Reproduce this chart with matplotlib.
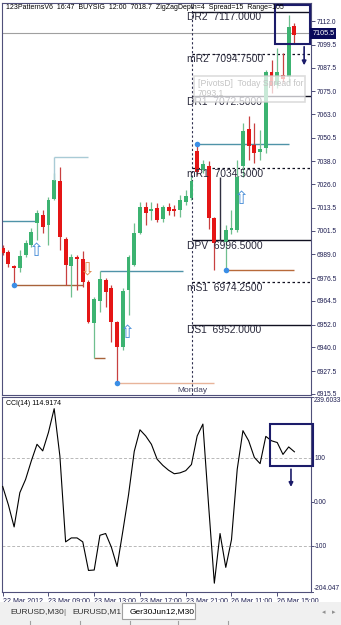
import matplotlib
matplotlib.use('Agg')
import matplotlib.pyplot as plt
import matplotlib.patches as mpatches
import matplotlib.transforms as mtransforms
import numpy as np

plt.rcParams['font.family'] = ['Liberation Sans', 'DejaVu Sans']

nan = np.nan

# --- Ger30Jun12 M30 candles (slot 38 holds a vertical line object, no candle)
opens = [6992.4, 6990.3, 6982.9, 6981.9, 6988.7, 6994.0, 7005.6, 7009.8, 7004.5, 7018.2,
         7027.7, 6997.2, 6982.9, 6987.7, 6986.6, 6974.5, 6952.9, 6964.5, 6975.6, 6971.3,
         6953.4, 6940.3, 6970.3, 6983.5, 7000.3, 7014.0, 7011.9, 7013.5, 7007.7, 7014.0,
         7013.0, 7012.4, 7016.6, 7018.8, 7043.5, 7033.5, 7035.6, 7008.2, nan, 6995.6,
         7001.9, 7001.9, 7035.6, 7055.1, 7046.7, 7043.0, 7045.1, 7085.1, 7078.3, 7083.6,
         7082.5, 7109.4]
highs = [6994.0, 6991.4, 6983.5, 6991.4, 6996.6, 7002.9, 7012.4, 7012.4, 7019.3, 7032.0,
         7035.1, 6998.2, 6989.3, 6988.7, 6990.8, 6975.6, 6966.6, 6980.3, 6976.6, 6973.0,
         6954.0, 6971.3, 6988.7, 7005.6, 7016.6, 7016.6, 7016.6, 7016.1, 7015.0, 7016.1,
         7015.0, 7020.3, 7023.0, 7030.3, 7047.2, 7038.8, 7038.2, 7009.0, nan, 7004.5,
         7012.4, 7038.8, 7058.3, 7062.0, 7058.3, 7054.6, 7086.2, 7091.5, 7097.8, 7095.1,
         7115.2, 7110.9]
lows = [6988.7, 6982.4, 6972.9, 6979.8, 6987.7, 6993.0, 6996.6, 7000.3, 6994.0, 7017.7,
        6991.4, 6973.0, 6966.6, 6970.3, 6971.9, 6952.9, 6934.5, 6958.7, 6961.3, 6942.9,
        6921.3, 6938.7, 6957.1, 6983.0, 7000.0, 7004.5, 7007.2, 7006.1, 7006.1, 7009.8,
        7009.3, 7008.7, 7015.0, 7017.7, 7031.0, 7031.9, 7002.4, 6980.8, nan, 6980.8,
        7000.0, 7000.8, 7029.8, 7038.8, 7037.2, 7038.8, 7042.5, 7074.1, 7076.7, 7079.9,
        7079.3, 7100.4]
closes = [6989.8, 6984.0, 6981.9, 6988.2, 6995.1, 7000.8, 7010.9, 7003.5, 7017.7, 7028.2,
          6998.2, 6983.5, 6987.7, 6986.6, 6974.5, 6953.4, 6965.6, 6976.1, 6969.2, 6953.4,
          6940.3, 6969.8, 6987.7, 7000.3, 7014.0, 7010.9, 7013.0, 7007.2, 7014.0, 7011.9,
          7011.9, 7017.7, 7019.8, 7027.7, 7032.5, 7036.7, 7008.2, 6995.1, nan, 7001.9,
          7002.9, 7029.8, 7054.1, 7046.2, 7042.5, 7044.6, 7085.1, 7077.8, 7085.1, 7081.4,
          7108.8, 7104.6]

cci = [36, -6, -56, 22, 52, 94, 132, 117, 159, 213, 105, -90, -81, -81, -90, -155, -154,
       -75, -71, -102, -146, -66, 17, 116, 165, 151, 132, 98, 84, 73, 65, 67, 72, 86, 151,
       178, -7, -184, -71, -148, -85, 75, 163, 140, 102, 88, 150, 140, 136, 109, 126, 114.9174]

price_ticks = [7112.0, 7099.5, 7087.5, 7075.0, 7063.0, 7050.5, 7038.0, 7026.0, 7013.5,
               7001.5, 6989.0, 6976.5, 6964.5, 6952.0, 6940.0, 6927.5, 6915.5]
time_slots = [0, 8, 16, 24, 32, 40, 48]
time_labels = ['22 Mar 2012', '23 Mar 09:00', '23 Mar 13:00', '23 Mar 17:00',
               '23 Mar 21:00', '26 Mar 11:00', '26 Mar 15:00']

pivot_names = ['DR2', 'mR2', 'DR1', 'mR1', 'DPV', 'mS1', 'DS1']
pivot_values = [7117.0, 7094.75, 7072.5, 7034.5, 6996.5, 6974.25, 6952.0]
pivot_solid = [True, False, True, False, True, False, True]
monday_slot = 33.1

# zigzag swing points and their level lines: (start, end, price, colour)
dot_slots = [2, 20, 34, 39]
dot_prices = [6972.9, 6921.3, 7047.2, 6980.8]
level_lines = [(-0.3, 6, 7006.6, '#4f93a8'),
               (9, 15, 7040.4, '#a9cbd6'),
               (2, 14, 6972.9, '#a8623a'),
               (16, 17.8, 6934.5, '#a8623a'),
               (17, 31.5, 6980.3, '#4f93a8'),
               (20, 37, 6921.3, '#e8b49a'),
               (34, 50, 7047.2, '#4f93a8'),
               (39, 51, 6980.8, '#b86a3a')]
up_arrow_slots = [5.9, 21.9, 41.8]
up_arrow_prices = [6995.5, 6952.3, 7022.9]
down_arrow_slots = [14.9]
down_arrow_prices = [6986.0]
vline_slot, vline_top, vline_bot = 38, 7029.8, 6996.1

bid = 7105.5
main_box = (47.6, 53.7, 7099.9, 7120.4)
main_arrow = (52.7, 7099.9, 7087.2)
cci_box = (46.7, 54.3, 81.6, 178.2)
cci_arrow = (50.4, 81.6, 28.7)

W, H = 341, 625
fig = plt.figure(figsize=(W / 100, H / 100), dpi=100)
fig.patch.set_facecolor('white')

ax = fig.add_axes([2 / W, 1 - 395 / H, 309 / W, 392 / H])
cx = fig.add_axes([2 / W, 1 - 592 / H, 309 / W, 195 / H])
xlim = (-0.12, 53.9)

spine_col = '#50507a'
for a in (ax, cx):
    a.set_xlim(*xlim)
    for s in a.spines.values():
        s.set_color(spine_col)
        s.set_linewidth(0.8)

ax.set_ylim(6914.97, 7121.5)
cx.set_ylim(-204.047, 239.6033)

# candles
x = np.arange(len(opens))
o = np.array(opens); h = np.array(highs); l = np.array(lows); c = np.array(closes)
ok = ~np.isnan(o)
up = (c >= o) & ok
dn = (c < o) & ok
green, red = '#3cb371', '#e51515'
ax.vlines(x[up], l[up], h[up], color='#6fbf8f', lw=0.9, zorder=3)
ax.vlines(x[dn], l[dn], h[dn], color='#c84040', lw=0.9, zorder=3)
body = np.maximum(np.abs(c - o), 0.7)
ax.bar(x[up], body[up], bottom=np.minimum(o, c)[up], width=0.68, color=green, zorder=4)
ax.bar(x[dn], body[dn], bottom=np.minimum(o, c)[dn], width=0.68, color=red, zorder=4)
ax.vlines(vline_slot, vline_bot, vline_top, color='#303040', lw=1.0, zorder=3)

# bid line
ax.axhline(bid, color='#a0a0a0', lw=0.8, zorder=1)

# swing levels
for x0, x1, p, col in level_lines:
    ax.hlines(p, x0, x1, color=col, lw=1.0, zorder=2)
ax.vlines(9, 7028.2, 7040.4, color='#a9cbd6', lw=1.0, zorder=5)
ax.scatter(dot_slots, dot_prices, s=16, color='#3a8ee6', zorder=6, linewidths=0)

for xs, ps in zip(up_arrow_slots, up_arrow_prices):
    ax.text(xs, ps, '\u21e7', color='#4a8fd8', fontsize=13, ha='center', va='top',
            family='DejaVu Sans', zorder=6)
for xs, ps in zip(down_arrow_slots, down_arrow_prices):
    ax.text(xs, ps, '\u21e9', color='#e08a50', fontsize=13, ha='center', va='top',
            family='DejaVu Sans', zorder=6)

# daily pivots
ax.axvline(monday_slot, color='#303050', lw=0.8, ls=(0, (2, 2)), zorder=2)
for name, v, solid in zip(pivot_names, pivot_values, pivot_solid):
    ax.hlines(v, monday_slot, xlim[1], color='#101020', lw=1.0 if solid else 0.9,
              linestyles='solid' if solid else (0, (2, 2)), zorder=2)
    ax.annotate(f'{name}  {v:.4f}', (32.2, v), xytext=(0, -0.5), textcoords='offset points',
                fontsize=7.4, color='#2a2a3c', va='top', ha='left', zorder=7)
ax.text(monday_slot, 6915.6, 'Monday', fontsize=6, color='#404060', ha='center', va='bottom',
        zorder=7)

# pivot info label (semi transparent)
ax.add_patch(mpatches.Rectangle((33.4, 7069.6), 19.5, 13.7, facecolor='white', alpha=0.72,
                                edgecolor='#d0d0d0', lw=1.2, zorder=8))
ax.text(34.2, 7081.5, '[PivotsD]  Today Spread for', fontsize=6.2, color='#c4c4c4',
        va='top', zorder=9)
ax.text(34.0, 7076.3, '7093.1', fontsize=6.2, color='#c4c4c4', va='top', zorder=9)

# navy box + arrow on price panel
bx0, bx1, by0, by1 = main_box
ax.add_patch(mpatches.Rectangle((bx0, by0), bx1 - bx0, by1 - by0, fill=False,
                                edgecolor='#1c1c6a', lw=1.5, zorder=9, clip_on=False))
ax.annotate('', xy=(main_arrow[0], main_arrow[2]), xytext=(main_arrow[0], main_arrow[1]),
            arrowprops=dict(arrowstyle='-|>', color='#1c1c6a', lw=1.2, mutation_scale=6),
            zorder=9)

ax.text(0.012, 0.9975, '123PatternsV6  16:47  BUYSIG  12:00  7018.7  ZigZagDepth=4  '
        'Spread=15  Range=105', transform=ax.transAxes, fontsize=5, va='top', zorder=10)

# price axis
ax.set_xticks([])
ax.yaxis.tick_right()
ax.set_yticks(price_ticks)
ax.set_yticklabels([f'{v:.1f}' for v in price_ticks])
ax.tick_params(axis='y', labelsize=4.8, labelcolor='#1c1c50', color=spine_col, length=3,
               pad=1, width=0.7)
trans = mtransforms.blended_transform_factory(ax.transAxes, ax.transData)
ax.text(1.004, bid, '7105.5', transform=trans, fontsize=5.2, color='white', va='center',
        ha='left', bbox=dict(boxstyle='square,pad=0.25', fc='#0a0a5a', ec='none'), zorder=10)

# CCI panel
cx.plot(x, cci, color='black', lw=0.8, zorder=3)
for lv in (100, -100):
    cx.axhline(lv, color='#b8b8b8', lw=0.7, ls=(0, (3, 2)), zorder=1)
cx.text(0.012, 0.985, 'CCI(14) 114.9174', transform=cx.transAxes, fontsize=5, va='top')
cx.set_yticks([])
ctrans = mtransforms.blended_transform_factory(cx.transAxes, cx.transData)
for val, lab, va in [(239.6033, '239.6033', 'top'), (100, '100', 'center'),
                     (0, '0.00', 'center'), (-100, '-100', 'center'),
                     (-204.047, '-204.047', 'bottom')]:
    cx.text(1.01, val, lab, transform=ctrans, fontsize=4.8, color='#1c1c50', va=va, ha='left')
    cx.plot([1.0, 1.008], [val, val], transform=ctrans, color=spine_col, lw=0.7, clip_on=False)

cbx0, cbx1, cby0, cby1 = cci_box
cx.add_patch(mpatches.Rectangle((cbx0, cby0), cbx1 - cbx0, cby1 - cby0, fill=False,
                                edgecolor='#1c1c6a', lw=1.5, zorder=5, clip_on=False))
cx.annotate('', xy=(cci_arrow[0], cci_arrow[2]), xytext=(cci_arrow[0], cci_arrow[1]),
            arrowprops=dict(arrowstyle='-|>', color='#1c1c6a', lw=1.2, mutation_scale=6))

cx.set_xticks(time_slots)
cx.set_xticklabels(time_labels)
for t in cx.get_xticklabels():
    t.set_ha('left')
cx.tick_params(axis='x', labelsize=5, labelcolor='#1c1c50', color=spine_col, length=3,
               pad=1, width=0.7)

# tab bar
fig.patches.append(mpatches.Rectangle((0, 0), 1, 23 / H, transform=fig.transFigure,
                                      facecolor='#f0f0f0', edgecolor='none', zorder=0))
fig.patches.append(mpatches.Rectangle((122 / W, 6 / H), 73 / W, 16 / H,
                                      transform=fig.transFigure, facecolor='white',
                                      edgecolor='#a0a0a0', lw=0.8, zorder=1))
fig.text(10 / W, 1 - 612 / H, 'EURUSD,M30', fontsize=6, color='#303030', va='center')
fig.text(63 / W, 1 - 612 / H, '|', fontsize=6, color='#606060', va='center')
fig.text(72 / W, 1 - 612 / H, 'EURUSD,M1', fontsize=6, color='#303030', va='center')
fig.text(130 / W, 1 - 612 / H, 'Ger30Jun12,M30', fontsize=6, color='black', va='center',
         zorder=2)
fig.text(322 / W, 1 - 612 / H, '\u25c2', fontsize=5, color='#909090', va='center',
         family='DejaVu Sans')
fig.text(332 / W, 1 - 612 / H, '\u25b8', fontsize=5, color='#909090', va='center',
         family='DejaVu Sans')
for sx in (30, 80, 130, 178, 228):
    fig.add_artist(plt.Line2D([sx / W, sx / W], [0, 4 / H], color='#a0a0a0', lw=0.8))

fig.savefig('out.png', dpi=100)
